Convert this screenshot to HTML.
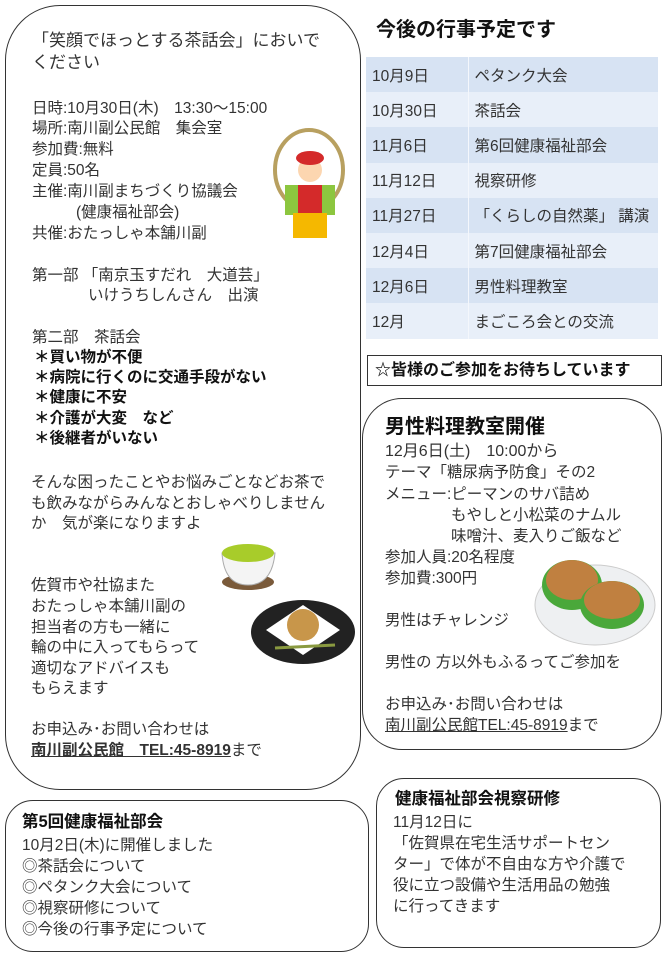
<!DOCTYPE html>
<html><head><meta charset="utf-8"><style>
body{margin:0;width:665px;height:960px;background:#fff;position:relative;overflow:hidden;font-family:"Liberation Sans","Noto Sans CJK JP",sans-serif;color:#222}
.box{position:absolute;border:1.6px solid #333;box-sizing:border-box;background:#fff}
.t{position:absolute;white-space:nowrap;font-size:15.5px;line-height:21px;color:#333}
.b{font-weight:bold;color:#111}
table{position:absolute;left:366px;top:57px;width:292px;border-collapse:collapse}
td{height:35.2px;padding:0 0 0 6px;font-size:15.5px;color:#333;box-sizing:border-box}
tr:nth-child(odd){background:#d7e3f3}
tr:nth-child(even){background:#e8eff9}
td:first-child{width:102px;border-right:1.5px solid #f4f7fc}
u{text-decoration:underline}
</style></head><body>
<div class="box" style="left:5px;top:5px;width:356px;height:785px;border-radius:55px"></div>
<div class="box" style="left:5px;top:800px;width:364px;height:152px;border-radius:28px"></div>
<div class="box" style="left:362px;top:398px;width:300px;height:352px;border-radius:40px"></div>
<div class="box" style="left:376px;top:778px;width:285px;height:170px;border-radius:28px"></div>
<div class="box" style="left:367px;top:355px;width:295px;height:31px;border-radius:0"></div>

<div class="t" style="left:32px;top:30px;font-size:17px">「笑顔でほっとする茶話会」においで</div>
<div class="t" style="left:32px;top:52px;font-size:17px">ください</div>
<div class="t" style="left:32px;top:98px">日時:10月30日(木)　13:30～15:00</div>
<div class="t" style="left:32px;top:118px">場所:南川副公民館　集会室</div>
<div class="t" style="left:32px;top:139px">参加費:無料</div>
<div class="t" style="left:32px;top:160px">定員:50名</div>
<div class="t" style="left:32px;top:181px">主催:南川副まちづくり協議会</div>
<div class="t" style="left:76px;top:202px">(健康福祉部会)</div>
<div class="t" style="left:32px;top:223px">共催:おたっしゃ本舗川副</div>
<div class="t" style="left:32px;top:265px">第一部 「南京玉すだれ　大道芸」</div>
<div class="t" style="left:88px;top:285px">いけうちしんさん　出演</div>
<div class="t" style="left:32px;top:327px">第二部　茶話会</div>
<div class="t b" style="left:34px;top:347px">＊買い物が不便</div>
<div class="t b" style="left:34px;top:367px">＊病院に行くのに交通手段がない</div>
<div class="t b" style="left:34px;top:387px">＊健康に不安</div>
<div class="t b" style="left:34px;top:408px">＊介護が大変　など</div>
<div class="t b" style="left:34px;top:428px">＊後継者がいない</div>
<div class="t" style="left:31px;top:472px">そんな困ったことやお悩みごとなどお茶で</div>
<div class="t" style="left:31px;top:493px">も飲みながらみんなとおしゃべりしません</div>
<div class="t" style="left:31px;top:513px">か　気が楽になりますよ</div>
<div class="t" style="left:31px;top:575px">佐賀市や社協また</div>
<div class="t" style="left:31px;top:596px">おたっしゃ本舗川副の</div>
<div class="t" style="left:31px;top:617px">担当者の方も一緒に</div>
<div class="t" style="left:31px;top:637px">輪の中に入ってもらって</div>
<div class="t" style="left:31px;top:658px">適切なアドバイスも</div>
<div class="t" style="left:31px;top:678px">もらえます</div>
<div class="t" style="left:31px;top:719px">お申込み･お問い合わせは</div>
<div class="t" style="left:31px;top:740px"><u><b>南川副公民館　TEL:45-8919</b></u>まで</div>

<div class="t b" style="left:22px;top:812px;font-size:16.5px">第5回健康福祉部会</div>
<div class="t" style="left:22px;top:835px">10月2日(木)に開催しました</div>
<div class="t" style="left:22px;top:856px">◎茶話会について</div>
<div class="t" style="left:22px;top:877px">◎ペタンク大会について</div>
<div class="t" style="left:22px;top:898px">◎視察研修について</div>
<div class="t" style="left:22px;top:919px">◎今後の行事予定について</div>

<div class="t b" style="left:376px;top:17px;font-size:20px;line-height:26px">今後の行事予定です</div>
<table>
<tr><td>10月9日</td><td>ペタンク大会</td></tr>
<tr><td>10月30日</td><td>茶話会</td></tr>
<tr><td>11月6日</td><td>第6回健康福祉部会</td></tr>
<tr><td>11月12日</td><td>視察研修</td></tr>
<tr><td>11月27日</td><td>「くらしの自然薬」 講演</td></tr>
<tr><td>12月4日</td><td>第7回健康福祉部会</td></tr>
<tr><td>12月6日</td><td>男性料理教室</td></tr>
<tr><td>12月</td><td>まごころ会との交流</td></tr>
</table>
<div class="t b" style="left:375px;top:360px;font-size:16px">☆皆様のご参加をお待ちしています</div>

<div class="t b" style="left:385px;top:415px;font-size:20px;line-height:24px">男性料理教室開催</div>
<div class="t" style="left:385px;top:441px;font-size:16px">12月6日(土)　10:00から</div>
<div class="t" style="left:385px;top:462px">テーマ「糖尿病予防食」その2</div>
<div class="t" style="left:385px;top:484px">メニュー:ピーマンのサバ詰め</div>
<div class="t" style="left:451px;top:505px">もやしと小松菜のナムル</div>
<div class="t" style="left:451px;top:526px">味噌汁、麦入りご飯など</div>
<div class="t" style="left:385px;top:547px">参加人員:20名程度</div>
<div class="t" style="left:385px;top:568px">参加費:300円</div>
<div class="t" style="left:385px;top:610px">男性はチャレンジ</div>
<div class="t" style="left:385px;top:652px">男性の 方以外もふるってご参加を</div>
<div class="t" style="left:385px;top:694px">お申込み･お問い合わせは</div>
<div class="t" style="left:385px;top:715px"><u>南川副公民館TEL:45-8919</u>まで</div>

<div class="t b" style="left:395px;top:789px;font-size:16.5px">健康福祉部会視察研修</div>
<div class="t" style="left:393px;top:812px">11月12日に</div>
<div class="t" style="left:393px;top:833px">「佐賀県在宅生活サポートセン</div>
<div class="t" style="left:393px;top:854px">ター」で体が不自由な方や介護で</div>
<div class="t" style="left:393px;top:875px">役に立つ設備や生活用品の勉強</div>
<div class="t" style="left:393px;top:896px">に行ってきます</div>

<svg style="position:absolute;left:0;top:0" width="665" height="960">
<ellipse cx="309" cy="170" rx="34" ry="40" fill="none" stroke="#b8a060" stroke-width="4"/>
<rect x="285" y="185" width="50" height="30" fill="#8cc63f"/>
<rect x="298" y="185" width="24" height="30" fill="#d42a2a"/>
<rect x="293" y="213" width="34" height="25" fill="#f5b800"/>
<circle cx="310" cy="170" r="12" fill="#fcd6b0"/>
<ellipse cx="310" cy="158" rx="14" ry="7" fill="#d42a2a"/>
<ellipse cx="248" cy="582" rx="26" ry="8" fill="#7a5a3a"/>
<path d="M222 553 Q224 585 248 585 Q272 585 275 553Z" fill="#f4f4f4" stroke="#aaa"/>
<ellipse cx="248" cy="553" rx="26" ry="9" fill="#a8cc2a"/>
<ellipse cx="303" cy="632" rx="52" ry="32" fill="#222"/>
<polygon points="303,605 340,630 303,655 266,630" fill="#fff"/>
<circle cx="303" cy="625" r="16" fill="#c8964a"/>
<line x1="275" y1="648" x2="335" y2="645" stroke="#8a9a40" stroke-width="3"/>
<ellipse cx="595" cy="605" rx="60" ry="40" fill="#eef0f2" stroke="#ccc"/>
<ellipse cx="572" cy="585" rx="30" ry="25" fill="#4aa83a"/>
<ellipse cx="572" cy="580" rx="26" ry="20" fill="#c08040"/>
<ellipse cx="612" cy="605" rx="32" ry="24" fill="#4aa83a"/>
<ellipse cx="612" cy="600" rx="28" ry="19" fill="#c08040"/>
</svg>
</body></html>
